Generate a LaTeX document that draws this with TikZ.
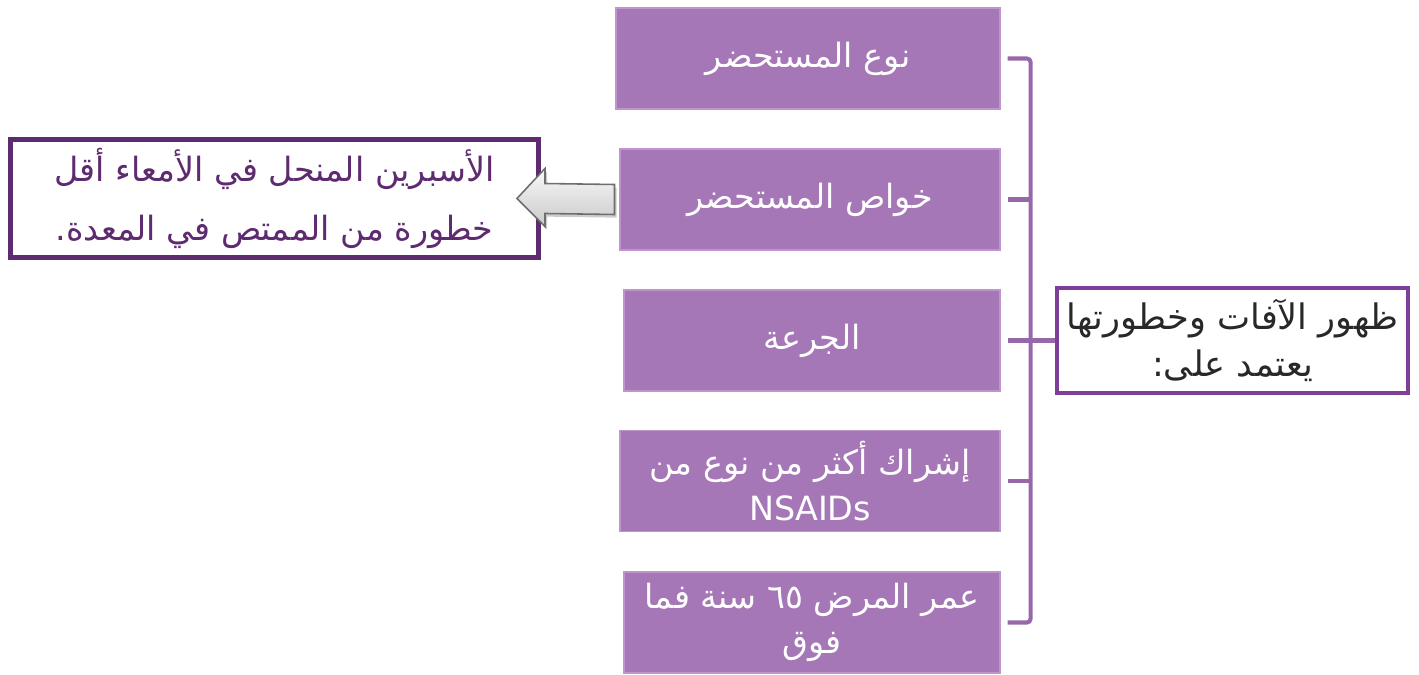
\documentclass[tikz,border=0pt]{standalone}
\usepackage{fontspec}
\setmainfont{DejaVu Sans}
\newfontfamily\arabicfont[Script=Arabic]{DejaVu Sans}
\TeXXeTstate=1
\usetikzlibrary{calc,shadows}
\definecolor{boxfill}{RGB}{165,119,182}
\definecolor{boxedge}{RGB}{190,150,205}
\definecolor{brk}{RGB}{150,104,170}
\definecolor{redge}{RGB}{126,63,152}
\definecolor{ledge}{RGB}{94,42,112}
\definecolor{rtext}{RGB}{40,40,40}
\definecolor{arrowedge}{RGB}{110,110,110}
\newcommand\pxu{0.02cm}
\tikzset{
  item/.style={fill=boxfill, draw=boxedge, line width=0.6pt, text=white, inner sep=0pt,
    minimum height=101*\pxu, align=center, font=\arabicfont\fontsize{19}{26}\selectfont},
  mainbox/.style={draw=redge, line width=2.3pt, fill=white, text=rtext, inner sep=0pt,
    minimum width=351*\pxu, minimum height=105*\pxu, align=center, font=\arabicfont\fontsize{20}{27}\selectfont},
  notebox/.style={draw=ledge, line width=2.8pt, fill=white, text=ledge, inner sep=0pt,
    minimum width=528*\pxu, minimum height=118*\pxu, align=center, font=\arabicfont\fontsize{19}{34}\selectfont},
  bracket/.style={draw=brk, line width=2.3pt},
  blockarrow/.style={draw=arrowedge, line width=0.9pt, top color=gray!5, bottom color=gray!42,
    drop shadow={shadow xshift=1.2pt, shadow yshift=-1.8pt, opacity=0.4}},
}
\begin{document}
\begin{tikzpicture}[x=0.02cm,y=-0.02cm]
\useasboundingbox (0,0) rectangle (1419,675);
\node[item, minimum width=384*\pxu] (b1) at (808,58.5) {\beginR نوع المستحضر\endR};
\node[item, minimum width=380*\pxu] (b2) at (810,199.5) {\beginR خواص المستحضر\endR};
\node[item, minimum width=376*\pxu] (b3) at (812,340.5) {\beginR الجرعة\endR};
\node[item, minimum width=380*\pxu] (b4) at (810,481) {\beginR إشراك أكثر من نوع من\endR\\ NSAIDs};
\node[item, minimum width=376*\pxu] (b5) at (812,622.5) {\beginR عمر المرض ٦٥ سنة فما\endR\\ \beginR فوق\endR};
\node[mainbox] (m) at (1232.5,340.5) {\beginR ظهور الآفات وخطورتها\endR\\ \beginR يعتمد على:\endR};
\node[notebox] (n) at (274.5,198.5) {\beginR الأسبرين المنحل في الأمعاء أقل\endR\\ \beginR خطورة من الممتص في المعدة.\endR};
% bracket
\coordinate (top) at ($(b1.east)+(30,0)$);
\coordinate (bot) at ($(b5.east)+(30,0)$);
\draw[bracket, rounded corners=2pt] ($(b1.east)+(7,0)$) -- (top) -- (bot) -- ($(b5.east)+(7,0)$);
\draw[bracket] ($(b2.east)+(7,0)$) -- ($(b2.east)+(30,0)$);
\draw[bracket] ($(b3.east)+(7,0)$) -- ($(b3.east)+(30,0)$);
\draw[bracket] ($(b4.east)+(7,0)$) -- ($(b4.east)+(30,0)$);
\draw[bracket] ($(b3.east)+(30,0)$) -- (m.west);
% block arrow from b2 to note box
\coordinate (tail) at ($(b2.west)+(-5,0)$);
\coordinate (tip) at ($(n.east)+(-24,0)$);
\path[blockarrow] ($(tail)+(0,-15)$) -- ($(tip)+(28,-15)$) -- ($(tip)+(28,-30)$) -- (tip)
  -- ($(tip)+(28,28)$) -- ($(tip)+(28,15)$) -- ($(tail)+(0,15)$) -- cycle;
\end{tikzpicture}
\end{document}
